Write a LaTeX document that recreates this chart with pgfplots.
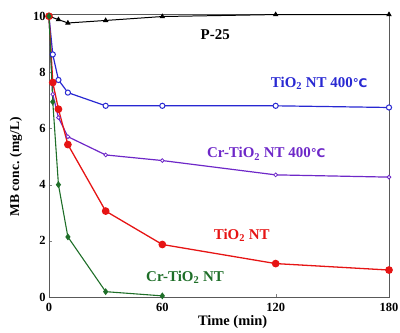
\documentclass[border=0pt]{standalone}
\usepackage{pgfplots}
\pgfplotsset{compat=1.18}
\usepackage{fontspec}
\setmainfont{Liberation Serif}
\newfontfamily\djv{DejaVu Sans}
\newcommand{\degc}{{\djv\bfseries\fontsize{12}{14}\selectfont ℃}}
\definecolor{cblue}{RGB}{40,40,210}
\definecolor{cpurp}{RGB}{110,40,200}
\definecolor{cred}{RGB}{230,20,20}
\definecolor{cgreen}{RGB}{30,110,40}
\begin{document}
\begin{tikzpicture}
\begin{axis}[
  scale only axis,
  width=340bp, height=283bp,
  xmin=0, xmax=180, ymin=0, ymax=10.08,
  xtick={0,60,120,180}, ytick={0,2,4,6,8,10},
  tick align=inside, tick pos=left,
  axis line style={gray!70!black},
  major tick length=3pt,
  tick label style={font=\bfseries\fontsize{12.5}{14}\selectfont},
  xticklabel style={yshift=-3pt},
  /pgf/number format/assume math mode=true,
  xlabel={Time (min)}, ylabel={MB conc. (mg/L)},
  xlabel style={font=\bfseries\fontsize{14.5}{16}\selectfont, at={(ticklabel cs:0.54)}, anchor=north, yshift=3pt},
  ylabel style={font=\bfseries\fontsize{13.5}{15}\selectfont, at={(ticklabel cs:0.46)}, anchor=south, yshift=4pt},
  clip=false,
]
\coordinate (bl) at (rel axis cs:0,0);
\coordinate (tr) at (rel axis cs:1,1);
\addplot[black, line width=1pt, mark=triangle*, mark size=2.2pt] coordinates {(0,10) (5,9.88) (10,9.76) (30,9.85) (60,9.99) (120,10.06) (180,10.06)};
\addplot[cblue, line width=1.2pt, mark=*, mark options={fill=white, line width=1pt}, mark size=2.6pt] coordinates {(0,10) (2,8.64) (5,7.73) (10,7.28) (30,6.81) (60,6.81) (120,6.81) (180,6.75)};
\addplot[cpurp, line width=1.2pt, mark=*, mark options={fill=white, line width=0.8pt}, mark size=1.9pt] coordinates {(0,10) (2,7.22) (5,6.39) (10,5.71) (30,5.06) (60,4.86) (120,4.35) (180,4.27)};
\addplot[cred, line width=1.3pt, mark=*, mark size=3.2pt] coordinates {(0,10) (2,7.64) (5,6.69) (10,5.43) (30,3.06) (60,1.87) (120,1.19) (180,0.96)};
\addplot[cgreen, line width=1.1pt, mark=diamond*, mark size=2.6pt] coordinates {(0,10) (2,6.95) (5,4.0) (10,2.14) (30,0.19) (60,0.04)};
\begin{scope}[every node/.style={font=\bfseries\fontsize{15}{17}\selectfont}]
\node at (axis cs:88,9.36) {P-25};
\node[text=cblue] at (axis cs:143,7.62) {TiO\textsubscript{2} NT 400\degc};
\node[text=cpurp] at (axis cs:115,5.1) {Cr-TiO\textsubscript{2} NT 400\degc};
\node[text=cred] at (axis cs:102,2.2) {TiO\textsubscript{2} NT};
\node[text=cgreen] at (axis cs:72,0.71) {Cr-TiO\textsubscript{2} NT};
\end{scope}
\end{axis}
\pgfresetboundingbox
\path ([shift={(-49bp,-36bp)}]bl) rectangle ([shift={(11bp,14bp)}]tr);
\end{tikzpicture}
\end{document}
